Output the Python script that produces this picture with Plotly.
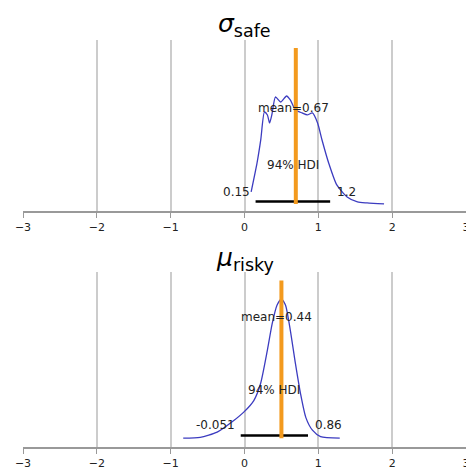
import plotly.graph_objects as go
from plotly.subplots import make_subplots

# posterior density, sigma_safe
sigma_x = [0.09, 0.17, 0.22, 0.27, 0.31, 0.34, 0.37, 0.42, 0.49, 0.57, 0.62, 0.69,
           0.78, 0.85, 0.92, 0.99, 1.05, 1.14, 1.25, 1.39, 1.53, 1.66, 1.89]
sigma_d = [0.12, 0.41, 0.64, 0.92, 0.89, 0.81, 0.89, 1.07, 1.02, 1.08, 1.04, 0.94,
           0.91, 0.89, 0.91, 0.81, 0.64, 0.41, 0.19, 0.07, 0.02, 0.01, 0.0]

# posterior density, mu_risky
mu_x = [-0.83, -0.60, -0.37, -0.145, -0.01, 0.126, 0.217, 0.31, 0.375, 0.44, 0.50,
        0.556, 0.62, 0.69, 0.76, 0.83, 0.92, 1.03, 1.29]
mu_d = [0.0, 0.01, 0.075, 0.22, 0.325, 0.47, 0.68, 1.10, 1.43, 1.66, 1.74,
        1.66, 1.35, 0.93, 0.55, 0.26, 0.10, 0.02, 0.0]

means = [0.67, 0.44]
hdi_low = [0.15, -0.051]
hdi_high = [1.16, 0.86]
hdi_labels = [["0.15", "1.2"], ["-0.051", "0.86"]]
ref_vals = [0.695, 0.5]
ref_tops = [1.56, 1.97]
titles = ["<i>σ</i><sub>safe</sub>", "<i>μ</i><sub>risky</sub>"]
ticks = [-3, -2, -1, 0, 1, 2, 3]

# per panel layout: y range, hdi bar height, text heights
yranges = [[-0.07, 1.64], [-0.11, 2.08]]
hdi_y = [0.025, 0.034]
mean_y = [0.96, 1.51]
hdi_text_y = [0.39, 0.60]
end_text_y = [0.12, 0.17]

fig = make_subplots(rows=2, cols=1)

blue = "#3c3cc0"
orange = "#f39a1e"
txt = dict(family="DejaVu Sans", size=12, color="#222222")

for i, (xs, ds) in enumerate([(sigma_x, sigma_d), (mu_x, mu_d)]):
    r = i + 1
    fig.add_trace(go.Scatter(x=xs, y=ds, mode="lines", line=dict(color=blue, width=1.3, shape="spline", smoothing=0.6)), row=r, col=1)
    fig.add_trace(go.Scatter(x=[hdi_low[i], hdi_high[i]], y=[hdi_y[i], hdi_y[i]], mode="lines",
                             line=dict(color="black", width=2.5)), row=r, col=1)
    fig.add_trace(go.Scatter(x=[ref_vals[i], ref_vals[i]], y=[0, ref_tops[i]], mode="lines",
                             line=dict(color=orange, width=4)), row=r, col=1)
    xref = "x" if r == 1 else "x2"
    yref = "y" if r == 1 else "y2"
    fig.add_annotation(x=means[i], y=mean_y[i], xref=xref, yref=yref, text="mean=%g" % means[i],
                       showarrow=False, font=txt)
    fig.add_annotation(x=(hdi_low[i] + hdi_high[i]) / 2, y=hdi_text_y[i], xref=xref, yref=yref,
                       text="94% HDI", showarrow=False, font=txt)
    fig.add_annotation(x=hdi_low[i], y=end_text_y[i], xref=xref, yref=yref, text=hdi_labels[i][0],
                       showarrow=False, font=txt, xanchor="right", xshift=-4)
    fig.add_annotation(x=hdi_high[i], y=end_text_y[i], xref=xref, yref=yref, text=hdi_labels[i][1],
                       showarrow=False, font=txt, xanchor="left", xshift=5)
    fig.update_xaxes(range=[-3, 3], tickvals=ticks, showgrid=True, gridcolor="#cccccc", gridwidth=1.5,
                     zeroline=False, showline=True, linecolor="#999999", linewidth=1.5,
                     ticks="outside", ticklen=5, tickcolor="#999999", tickwidth=1.2, automargin=False,
                     tickfont=dict(family="DejaVu Sans", size=11, color="#222222"), row=r, col=1)
    fig.update_yaxes(range=yranges[i], visible=False, automargin=False, row=r, col=1)

fig.update_layout(yaxis=dict(domain=[0.58, 1.0]), yaxis2=dict(domain=[0.0, 0.431]))

# titles, placed by pixel row converted to paper coordinates
for title, py in zip(titles, [25, 259]):
    fig.add_annotation(x=0.5, y=(447 - py) / 407, xref="paper", yref="paper", text=title,
                       showarrow=False, yanchor="middle",
                       font=dict(family="DejaVu Sans", size=25, color="black"))

# page body adds 8px margin, so figure is 466 wide/high
fig.update_layout(width=466, height=466, showlegend=False, plot_bgcolor="white", paper_bgcolor="white",
                  margin=dict(l=15, r=8, t=32, b=27, autoexpand=False))

fig.write_html("out.html")
